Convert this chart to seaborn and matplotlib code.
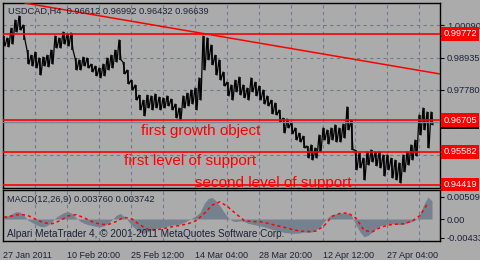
import numpy as np
import pandas as pd
import matplotlib
matplotlib.use("Agg")
import matplotlib.pyplot as plt
import seaborn as sns
from matplotlib import transforms

# ---------------- data ----------------
symbol_title = "USDCAD,H4  0.96612 0.96992 0.96432 0.96639"
macd_title = "MACD(12,26,9) 0.003760 0.003742"
copyright_txt = "Alpari MetaTrader 4, \u00a9 2001-2011 MetaQuotes Software Corp."

date_labels = ["27 Jan 2011", "10 Feb 20:00", "25 Feb 12:00", "14 Mar 04:00",
               "28 Mar 20:00", "12 Apr 12:00", "27 Apr 04:00"]

price_high = [0.9970, 0.9963, 0.9998, 1.0027, 1.0041, 1.0009, 0.9920, 0.9902, 0.9913, 0.9892,
              0.9895, 0.9902, 0.9920, 0.9970, 0.9963, 0.9984, 0.9977, 0.9981, 0.9892, 0.9885,
              0.9895, 0.9892, 0.9870, 0.9863, 0.9856, 0.9870, 0.9892, 0.9902, 0.9920, 0.9956,
              0.9877, 0.9849, 0.9813, 0.9796, 0.9760, 0.9742, 0.9760, 0.9757, 0.9764, 0.9753,
              0.9750, 0.9757, 0.9746, 0.9728, 0.9714, 0.9757, 0.9767, 0.9778, 0.9785, 0.9821,
              0.9970, 0.9963, 0.9938, 0.9902, 0.9885, 0.9842, 0.9806, 0.9796, 0.9813, 0.9824,
              0.9796, 0.9785, 0.9821, 0.9806, 0.9792, 0.9778, 0.9757, 0.9742, 0.9732, 0.9707,
              0.9678, 0.9675, 0.9664, 0.9643, 0.9625, 0.9614, 0.9579, 0.9583, 0.9572, 0.9618,
              0.9643, 0.9636, 0.9643, 0.9654, 0.9643, 0.9657, 0.9718, 0.9671, 0.9565, 0.9554,
              0.9536, 0.9558, 0.9565, 0.9558, 0.9558, 0.9547, 0.9547, 0.9536, 0.9529, 0.9519,
              0.9547, 0.9558, 0.9583, 0.9600, 0.9689, 0.9714, 0.9700, 0.9700]
price_low = [0.9934, 0.9931, 0.9941, 0.9984, 0.9991, 0.9956, 0.9870, 0.9863, 0.9856, 0.9831,
             0.9863, 0.9860, 0.9870, 0.9927, 0.9927, 0.9941, 0.9934, 0.9920, 0.9849, 0.9849,
             0.9863, 0.9856, 0.9842, 0.9828, 0.9821, 0.9828, 0.9849, 0.9856, 0.9877, 0.9885,
             0.9835, 0.9799, 0.9778, 0.9742, 0.9707, 0.9686, 0.9714, 0.9707, 0.9714, 0.9707,
             0.9714, 0.9721, 0.9707, 0.9678, 0.9671, 0.9714, 0.9721, 0.9728, 0.9707, 0.9742,
             0.9849, 0.9885, 0.9867, 0.9831, 0.9813, 0.9792, 0.9757, 0.9742, 0.9771, 0.9760,
             0.9750, 0.9742, 0.9771, 0.9757, 0.9742, 0.9728, 0.9721, 0.9693, 0.9689, 0.9664,
             0.9625, 0.9643, 0.9622, 0.9600, 0.9593, 0.9572, 0.9536, 0.9529, 0.9536, 0.9558,
             0.9600, 0.9586, 0.9600, 0.9593, 0.9593, 0.9607, 0.9636, 0.9565, 0.9494, 0.9501,
             0.9458, 0.9511, 0.9522, 0.9508, 0.9501, 0.9472, 0.9494, 0.9465, 0.9458, 0.9447,
             0.9487, 0.9511, 0.9529, 0.9543, 0.9618, 0.9636, 0.9572, 0.9654]

macd_hist = [0.0005, 0.0008, 0.0012, 0.0017, 0.0016, 0.0008, -0.0003, -0.0008, -0.0013, -0.0017,
             -0.0018, -0.0014, -0.0006, 0.0004, 0.0010, 0.0015, 0.0017, 0.0013, 0.0003, -0.0005,
             -0.0010, -0.0013, -0.0015, -0.0017, -0.0018, -0.0016, -0.0010, -0.0002, 0.0008, 0.0013,
             0.0006, -0.0004, -0.0015, -0.0024, -0.0031, -0.0033, -0.0029, -0.0025, -0.0022, -0.0020,
             -0.0018, -0.0016, -0.0014, -0.0013, -0.0012, -0.0008, -0.0003, 0.0002, 0.0008, 0.0015,
             0.0035, 0.0047, 0.0050, 0.0042, 0.0030, 0.0016, 0.0004, -0.0004, -0.0006, -0.0004,
             -0.0006, -0.0010, -0.0012, -0.0014, -0.0016, -0.0018, -0.0021, -0.0024, -0.0026, -0.0028,
             -0.0031, -0.0032, -0.0033, -0.0033, -0.0032, -0.0030, -0.0031, -0.0030, -0.0025, -0.0018,
             -0.0006, 0.0004, 0.0010, 0.0012, 0.0014, 0.0013, 0.0014, 0.0006, -0.0014, -0.0030,
             -0.0041, -0.0038, -0.0030, -0.0022, -0.0016, -0.0013, -0.0012, -0.0011, -0.0012, -0.0013,
             -0.0012, -0.0008, -0.0006, -0.0002, 0.0012, 0.0035, 0.0051, 0.0042]
macd_signal = [0.0004, 0.0007, 0.0011, 0.0008, -0.0001, -0.0009, -0.0011, -0.0004, 0.0007, 0.0010,
               0.0003, -0.0006, -0.0012, -0.0013, -0.0006, 0.0004, 0.0000, -0.0014, -0.0024, -0.0025,
               -0.0022, -0.0018, -0.0015, -0.0011, -0.0004, 0.0012, 0.0032, 0.0040, 0.0028, 0.0012,
               -0.0003, -0.0006, -0.0006, -0.0010, -0.0015, -0.0019, -0.0024, -0.0028, -0.0029, -0.0028,
               -0.0016, 0.0006, 0.0013, 0.0014, 0.0002, -0.0026, -0.0030, -0.0020, -0.0014, -0.0012,
               -0.0011, -0.0005, 0.0008, 0.0037]

level_lines = [0.99772, 0.96705, 0.95582, 0.94419]
bid_price = 0.96639
trend_start = 1.0087
trend_end = 0.9835
grid_prices = [1.00090, 0.98935, 0.97780, 0.96625, 0.95470]
axis_prices = [1.00090, 0.98935, 0.97780]
macd_axis = [(0.005091, "0.005091"), (0.0, "0.00"), (-0.00433, "-0.00433")]
annotations = [("first growth object", 0.96323, 138),
               ("first level of support", 0.95257, 121),
               ("second level of support", 0.94475, 192)]

# ---------------- style ----------------
BG = "#ababab"
GRID = "#6f7c8c"
TXT = "#1c2238"
FS = 6.7
sns.set_style("white", {"axes.facecolor": BG, "figure.facecolor": BG})
plt.rcParams["font.family"] = ["Liberation Sans", "DejaVu Sans"]

W, H = 480, 260
fig = plt.figure(figsize=(4.8, 2.6), dpi=100, facecolor=BG)


def rect(x0, y0, x1, y1):
    return [x0 / W, 1 - y1 / H, (x1 - x0) / W, (y1 - y0) / H]


ax = fig.add_axes(rect(3, 3, 440, 188))
axm = fig.add_axes(rect(3, 190, 440, 241))
NB = 437
for a in (ax, axm):
    a.set_facecolor(BG)
    a.set_xlim(0, NB)
    for s in a.spines.values():
        s.set_color("black")
        s.set_linewidth(1.0)
    for gx in range(32, NB, 32):
        a.axvline(gx, color=GRID, ls=(0, (3, 3)), lw=0.8, zorder=0)

ax.set_ylim(0.94297, 1.00872)
axm.set_ylim(-0.00509, 0.00671)
for gp in grid_prices:
    ax.axhline(gp, color=GRID, ls=(0, (3, 3)), lw=0.8, zorder=0)

# price bars
t = np.arange(len(price_high)) * 4 + 1
zz_t, zz_p = [], []
for ti, hi, lo in zip(t, price_high, price_low):
    zz_t += [ti - 1, ti + 1]
    zz_p += [hi, lo]
df_price = pd.DataFrame({"t": zz_t, "p": zz_p})
ax.vlines(t, price_low, price_high, color="black", lw=1.1, zorder=3)
sns.lineplot(data=df_price, x="t", y="p", sort=False, estimator=None, color="black",
             lw=0.9, ax=ax, zorder=3)

# levels
for lv in level_lines:
    ax.axhline(lv, color="#ff0000", lw=1.2, zorder=4)
ax.axhline(bid_price, color="#7a8595", lw=1.0, zorder=3.5)
sns.lineplot(x=[22, NB], y=[trend_start, trend_end], color="#ff0000", lw=1.1, ax=ax, zorder=4)

for txt, py, tx in annotations:
    ax.text(tx, py, txt, color="#ff0000", fontsize=11, va="center", ha="left", zorder=5,
            clip_on=True)

# right axis labels
ax.yaxis.tick_right()
ax.set_yticks(axis_prices)
ax.set_yticklabels([f"{v:.5f}" for v in axis_prices])
ax.tick_params(axis="y", length=3, width=0.8, color="black", labelsize=FS,
               labelcolor=TXT, pad=2)
ax.set_xticks([])
ax.set_xlabel("")
ax.set_ylabel("")

trans = transforms.blended_transform_factory(ax.transAxes, ax.transData)
ax.text(1.008, bid_price, f"{bid_price:.5f}", transform=trans, color="black", fontsize=FS,
        va="center", ha="left", clip_on=False, zorder=9,
        bbox=dict(boxstyle="square,pad=0.25", fc="black", ec="none"))
for lv in level_lines:
    ax.text(1.008, lv, f"{lv:.5f}", transform=trans, color="white", fontsize=FS,
            va="center", ha="left", clip_on=False, zorder=10,
            bbox=dict(boxstyle="square,pad=0.25", fc="#ff0000", ec="none"))

# MACD
tm = np.arange(len(macd_hist)) * 4 + 1
axm.fill_between(tm, 0, macd_hist, color="#76818f", lw=0, zorder=2)
ts = np.arange(len(macd_signal)) * 8 + 1
sns.lineplot(x=ts, y=macd_signal, color="#ff0000", lw=1.1, ls=(0, (2, 2)), ax=axm, zorder=3)
axm.yaxis.tick_right()
axm.set_yticks([v for v, _ in macd_axis])
axm.set_yticklabels([s for _, s in macd_axis])
axm.tick_params(axis="y", length=3, width=0.8, color="black", labelsize=FS,
                labelcolor=TXT, pad=2)
axm.set_xticks(np.arange(len(date_labels)) * 64)
axm.set_xticklabels(date_labels)
axm.tick_params(axis="x", length=4, width=0.8, color="black", labelsize=6.5,
                labelcolor=TXT, pad=3)
for lbl in axm.get_xticklabels():
    lbl.set_ha("left")
axm.set_xlabel("")
axm.set_ylabel("")

fig.text(8 / W, 1 - 11 / H, symbol_title, fontsize=FS, color=TXT, va="center", ha="left")
fig.text(7 / W, 1 - 200 / H, macd_title, fontsize=FS, color=TXT, va="center", ha="left")
fig.text(7 / W, 1 - 234 / H, copyright_txt, fontsize=7.2, color=TXT, va="center", ha="left")

fig.savefig("out.png", dpi=100, facecolor=BG)
